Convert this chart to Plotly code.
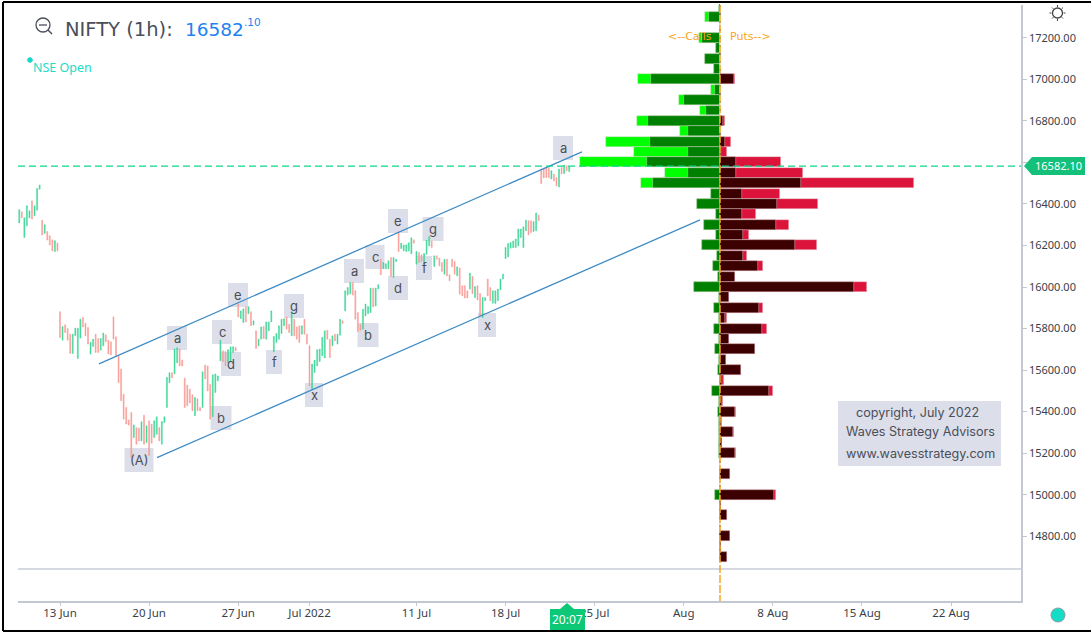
import plotly.graph_objects as go

W, H = 1091, 633
L, R, T, B = 18, 1021, 5, 601

# ---- hourly candles (bar number, 0 = 13 Jun 09:15) ----
first_bar = -16
opens = [16308,16362,16238,16295,16333,16415,16343,16370,16471,16322,16258,16267,16247,16227,16171,16212,
15881,15744,15818,15800,15773,15680,15765,15656,15754,15853,15826,15805,15677,15714,15773,15752,15696,15717,15770,15744,
15736,15856,15760,15669,15605,15484,15420,15360,15396,15275,15323,15321,15259,15383,15251,15356,15340,15275,15291,15323,
15243,15348,15420,15539,15587,15582,15635,15702,15649,15561,15528,15508,15481,15380,15462,15420,15420,15625,15620,15532,
15375,15492,15548,15645,15693,15689,15637,15645,15685,15709,15919,15848,15829,15905,15871,15881,15817,15789,15717,15749,
15810,15749,15789,15832,15688,15733,15749,15776,15813,15856,15821,15765,15845,15808,15813,15773,15845,15773,15717,15508,
15588,15620,15641,15669,15658,15792,15749,15717,15773,15725,15768,15837,15885,15961,15967,16022,15982,15877,15821,15797,
15861,15872,15877,15995,15909,15990,16134,16088,16088,16088,16142,16046,16123,16266,16185,16174,16171,16174,16160,16227,
16110,16166,16155,16112,16158,16198,16222,16099,16150,16139,16118,16062,16134,16059,16134,16123,16054,16091,16006,16006,
15982,15990,16051,15949,16006,15969,15853,15934,16038,15998,15922,15921,15934,15986,16038,16137,16145,16187,16189,16190,
16198,16238,16190,16271,16319,16319,16267,16271,16346,16568,16569,16575,16575,16520,16544,16527,16482,16575,16546,16584,16556]
closes = [16372,16333,16333,16391,16367,16327,16391,16474,16491,16250,16300,16226,16202,16174,16223,16174,
15757,15810,15781,15744,15680,15773,15802,15802,15845,15808,15765,15725,15733,15749,15685,15685,15752,15778,15736,15677,
15673,15749,15669,15540,15452,15364,15340,15335,15179,15336,15243,15259,15351,15243,15332,15187,15248,15356,15375,15259,
15352,15375,15564,15587,15563,15702,15707,15620,15620,15420,15428,15442,15404,15468,15404,15404,15592,15558,15500,15364,
15577,15581,15572,15744,15641,15620,15698,15712,15712,15693,15856,15885,15895,15832,15905,15813,15837,15704,15749,15808,
15752,15832,15832,15885,15762,15776,15813,15845,15847,15797,15781,15882,15765,15749,15733,15813,15773,15725,15524,15629,
15648,15698,15701,15757,15789,15749,15660,15765,15741,15773,15845,15824,15982,15998,16022,15961,15845,15786,15792,15893,
15918,15906,15995,15905,15995,16011,16059,16118,16112,16126,16051,16142,16134,16171,16211,16202,16203,16213,16237,16211,
16171,16118,16123,16161,16226,16243,16190,16150,16134,16102,16075,16134,16054,16030,16097,16062,16097,15966,15958,15947,
15947,16067,15967,16002,15937,15861,15949,15949,15958,15934,15982,15982,15990,16038,16062,16190,16209,16214,16222,16231,
16279,16279,16290,16322,16251,16262,16315,16356,16319,16498,16526,16527,16527,16560,16511,16487,16568,16544,16587,16560,16579]
last_price = 16582.10

# ---- option chain by strike ----
strikes = [17350,17300,17250,17200,17150,17100,17050,17000,16950,16900,16850,16800,16750,16700,16650,16600,16550,16500,
16450,16400,16350,16300,16250,16200,16150,16100,16050,16000,15950,15900,15850,15800,15750,15700,15650,15600,15550,15500,
15450,15400,15350,15300,15250,15200,15150,15100,15050,15000,14950,14900,14850,14800,14750,14700]
calls_chg = [1,10.7,0,18,3.3,15,5.7,69,5,36,14,72,32,70,32,73,32,67,8.3,23,4,15.7,3.3,17.7,2.7,6.3,1.3,26,1,5.7,0.7,5.7,0.5,4.3,0.5,2,0,7.7,0.5,1.7,0.5,0.7,0.3,0.5,0,0,0,5,0,0,0,0,0,0]
calls_oi = [1,15,0,20.7,3.3,15,5.7,81.3,9,40.7,20,83,39.7,114,86,140,55,79,8.3,23,4,15.7,3.3,17.7,2.7,6.3,1.3,26,1,5.7,0.7,5.7,0.5,4.3,0.5,2,0,7.7,0.5,1.7,0.5,0.7,0.3,0.5,0,0,0,5,0,0,0,0,0,0]
puts_chg = [0,0,0,0,0,0,0,14.7,0,0,0,3.7,0,5,1.7,16,16.3,81.3,22.3,57,22.7,56.3,23,75,23.7,38.3,15,134,9.3,39.7,5.7,42.7,9.3,35.3,6,21,2.7,49.7,2,15.7,1.3,13.3,2,15.3,0.3,10.7,0.7,54,1.3,7.7,0.7,10.7,1.3,7.7]
puts_oi = [0,0,0,0,0,0,0,15.7,0,0,0,5,0,11.3,7,61.7,83.7,194.7,60.3,98.7,36.7,69.7,29,97.7,27,43.7,15,147.3,9.3,43.7,7,47.7,9.3,35.3,6,21,4.3,53,3.3,16.3,2,14.7,2,16.3,0.3,10.7,0.7,56.7,1.3,7.7,0.7,10.7,1.3,7.7]

# ---- trend channel ----
upper_x, upper_y = [15.3, 205], [15630, 16651]
lower_x, lower_y = [38.1, 251.4], [15178, 16323]

x_tick_bars = [0,35,70,98,140,175,210,245,280,315,350]
x_tick_text = ["13 Jun","20 Jun","27 Jun","Jul 2022","11 Jul","18 Jul","25 Jul","Aug","8 Aug","15 Aug","22 Aug"]
y_ticks = list(range(14800, 17201, 200))
y_tick_text = ["" if v == 16600 else f"{v}.00" for v in y_ticks]

wave_labels = [("a",177,338,20,24),("c",222,332,20,24),("d",231,364,20,24),("b",221,418,21,24),("e",238,295,20,24),
("g",294,306,20,24),("f",274,362,16,24),("(A)",139,460,29,24),("x",314,395,18,24),("a",354,271,20,24),("b",368,335,21,24),
("c",375,257,19,24),("d",398,288,20,24),("e",398,221,20,24),("f",424,268,16,24),("g",433,229,21,24),("x",487,325,18,24),("a",563,148,20,24)]

def fx(p): return (p - L) / (R - L)
def fy(p): return (B - p) / (B - T)

bar_x = list(range(first_bar, first_bar + len(opens)))
highs = [max(o, c) for o, c in zip(opens, closes)]
lows = [min(o, c) for o, c in zip(opens, closes)]

UP, DOWN = "#3fd699", "#f99c96"
fig = go.Figure()
fig.add_trace(go.Candlestick(x=bar_x, open=opens, high=highs, low=lows, close=closes,
    increasing=dict(line=dict(color=UP, width=0.5), fillcolor=UP),
    decreasing=dict(line=dict(color=DOWN, width=0.5), fillcolor=DOWN), whiskerwidth=0, showlegend=False))

for xs, ys in ((upper_x, upper_y), (lower_x, lower_y)):
    fig.add_trace(go.Scatter(x=xs, y=ys, mode="lines", line=dict(color="#3f8cc5", width=1.3), showlegend=False))

BW = 48
def hbar(vals, color):
    fig.add_trace(go.Bar(x=vals, y=strikes, orientation="h", width=BW, xaxis="x2",
        marker=dict(color=color, line=dict(width=0.6, color="rgba(235,215,220,0.7)")), showlegend=False))
hbar([-v for v in calls_oi], "#00ff00")
hbar([-v for v in calls_chg], "#008000")
hbar(puts_oi, "#dc143c")
hbar(puts_chg, "#3d0000")

shapes = []
def rect(x0, y0, x1, y1, fill, layer="below", line=None):
    shapes.append(dict(type="rect", xref="paper", yref="paper", x0=fx(x0), x1=fx(x1), y0=fy(y0), y1=fy(y1),
        fillcolor=fill, line=line or dict(width=0), layer=layer))
def seg(x0, y0, x1, y1, color, width=1, dash="solid", layer="above"):
    shapes.append(dict(type="line", xref="paper", yref="paper", x0=fx(x0), x1=fx(x1), y0=fy(y0), y1=fy(y1),
        line=dict(color=color, width=width, dash=dash), layer=layer))
def circ(cx, cy, r, fill, color, width=1):
    shapes.append(dict(type="circle", xref="paper", yref="paper", x0=fx(cx-r), x1=fx(cx+r), y0=fy(cy+r), y1=fy(cy-r),
        fillcolor=fill, line=dict(color=color, width=width), layer="above"))
def path(points, fill):
    d = "M " + " L ".join(f"{fx(a):.5f},{fy(b):.5f}" for a, b in points) + " Z"
    shapes.append(dict(type="path", xref="paper", yref="paper", path=d, fillcolor=fill, line=dict(width=0), layer="above"))

annos = []
def text(s, x, y, size, color, font="Lato", anchor="center"):
    annos.append(dict(text=s, xref="paper", yref="paper", x=fx(x), y=fy(y), xanchor=anchor, yanchor="middle",
        showarrow=False, font=dict(size=size, color=color, family=font)))

# image frame
seg(3, 2, 1091, 2, "#000000", 2); seg(3, 2, 3, 631, "#000000", 2); seg(3, 631, 1091, 631, "#000000", 2)

# wave labels
for s, cx, cy, w, h in wave_labels:
    rect(cx - w/2, cy - h/2, cx + w/2, cy + h/2, "#dcdfe9")
    text(s, cx, cy, 13, "#4a4e5a", "Inter")

# lower pane separator, last-price line
seg(L, 569, R, 569, "#c9cdd7", 1.5, layer="below")
shapes.append(dict(type="line", xref="paper", x0=0, x1=1, yref="y", y0=last_price, y1=last_price,
    line=dict(color="#0fd88a", width=1.2, dash="7px,4px"), layer="above"))

# zero line of the option profile
seg(719.5, 4, 719.5, 12, "#1f9d4a", 1)
seg(720, 5, 720, 560, "#222222", 1, "2px,6px")
seg(720, 5, 720, 601, "#f5a623", 1.5, "8px,2px")

# last-price tag
path([(1024,166),(1032,157),(1085,157),(1085,175),(1032,175)], "#14c07a")
text("16582.10", 1058, 166, 11, "#ffffff", "Noto Sans")
# time tag
path([(550,609),(560,609),(567,603),(574,609),(585,609),(585,630),(550,630)], "#0cc877")
text("20:07", 567.5, 619, 12, "#ffffff", "Noto Sans")

# header
circ(43, 25, 7, "rgba(0,0,0,0)", "#4a4e5a", 1.3)
seg(39, 25, 47, 25, "#4a4e5a", 1.3)
seg(48, 30, 52, 34, "#4a4e5a", 1.5)
text("NIFTY (1h):", 63, 29, 19.5, "#4a4e5a", "DejaVu Sans", "left")
text("16582", 183, 29, 18.5, "#1e82f0", "DejaVu Sans", "left")
text(".10", 242, 22, 10.5, "#1e82f0", "DejaVu Sans", "left")
circ(30, 60, 2.3, "#12d8c8", "#12d8c8")
text("NSE Open", 30.5, 67, 12.5, "#22dcc8", "Noto Sans", "left")
text("&lt;--Calls", 666, 36, 11, "#f9a61a", "DejaVu Sans", "left")
text("Puts--&gt;", 728, 36, 11, "#f9a61a", "DejaVu Sans", "left")

# settings glyph and status dot
circ(1057.5, 13, 5, "rgba(0,0,0,0)", "#444444", 1.3)
for a, b, c, d in [(1057.5,5,1057.5,7),(1057.5,19,1057.5,21),(1049.5,13,1051.5,13),(1063.5,13,1065.5,13),
                   (1052,7.5,1053.3,8.8),(1061.7,17.2,1063,18.5),(1052,18.5,1053.3,17.2),(1061.7,8.8,1063,7.5)]:
    seg(a, b, c, d, "#444444", 1)
circ(1058, 615, 7, "#14dcc6", "#8a9aa0", 1)

# copyright panel
rect(838, 401, 1001, 466, "#dcdfe9")
text("copyright, July 2022", 917, 412, 12.6, "#4a4e5a", "Inter")
text("Waves Strategy Advisors", 920, 432, 12.6, "#4a4e5a", "Inter")
text("www.wavesstrategy.com", 920, 453, 12.6, "#4a4e5a", "Inter")

axis_c = "#c3c8d3"
pad = 2.546
fig.update_layout(
    width=W, height=H, margin=dict(l=L, r=W-R, t=T, b=H-B, pad=0), autosize=False,
    paper_bgcolor="#ffffff", plot_bgcolor="#ffffff", barmode="overlay", bargap=0, boxgap=0.45, showlegend=False,
    hovermode=False, shapes=shapes, annotations=annos,
    xaxis=dict(range=[(L-60)/pad, (R-60)/pad], tickmode="array", tickvals=x_tick_bars, ticktext=x_tick_text,
        showgrid=False, zeroline=False, showline=True, linecolor=axis_c, linewidth=1.5, ticks="outside", ticklen=3,
        tickcolor=axis_c, rangeslider=dict(visible=False), tickfont=dict(size=11.5, family="Noto Sans", color="#3a3f4a"), ticklabelstandoff=-3),
    xaxis2=dict(range=[L-719.5, R-719.5], overlaying="x", visible=False, anchor="y", showgrid=False, zeroline=False),
    yaxis=dict(range=[14488, 17358], side="right", tickmode="array", tickvals=y_ticks, ticktext=y_tick_text,
        showgrid=False, zeroline=False, showline=True, linecolor=axis_c, linewidth=1.5, ticks="outside", ticklen=4,
        tickcolor=axis_c, tickfont=dict(size=11, family="Noto Sans", color="#3a3f4a")),
)
fig.write_html("out.html", config=dict(displayModeBar=False),
    post_script="document.body.style.margin='0';document.body.style.overflow='hidden';")
